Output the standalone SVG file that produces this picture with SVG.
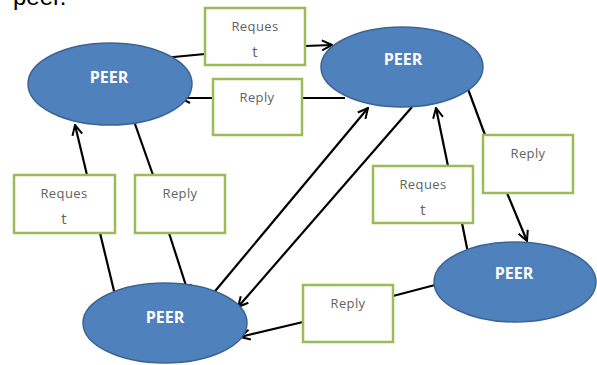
<svg xmlns="http://www.w3.org/2000/svg" width="597" height="365" viewBox="0 0 597 365">
  <style>
    .peer { fill: #4F81BD; stroke: #3B6495; stroke-width: 1.5; }
    .peer-label { font-family: "Open Sans", "Liberation Sans", sans-serif; font-weight: bold; font-size: 16px; fill: #FFFFFF; text-anchor: middle; }
    .msg { fill: #FFFFFF; stroke: #9BBB59; stroke-width: 2.5; }
    .msg-label { font-family: "Open Sans", "Liberation Sans", sans-serif; font-size: 13px; letter-spacing: 0.4px; fill: #626262; text-anchor: middle; }
    .msg-tail { font-size: 15px; }
    .link { fill: none; stroke: #000000; stroke-width: 2.2; }
    .caption { font-family: "Liberation Sans", Arial, sans-serif; font-size: 24px; fill: #000000; }
  </style>
  <defs>
    <marker id="arrow" viewBox="0 0 12 12" refX="11" refY="6" markerWidth="12" markerHeight="12" markerUnits="userSpaceOnUse" orient="auto">
      <polyline points="1,1 11,6 1,11" fill="none" stroke="#000000" stroke-width="2"/>
    </marker>
  </defs>

  <rect width="597" height="365" fill="#FFFFFF"/>
  <text class="caption" x="13" y="5">peer.</text>

  <g id="connectors">
    <!-- top-left peer -> request -> top-middle peer -->
    <line class="link" x1="163" y1="58" x2="205" y2="54"/>
    <line class="link" x1="305" y1="46" x2="332" y2="45" marker-end="url(#arrow)"/>
    <!-- top-middle peer -> reply -> top-left peer -->
    <line class="link" x1="345" y1="98" x2="302" y2="98"/>
    <line class="link" x1="213" y1="98" x2="180" y2="98" marker-end="url(#arrow)"/>
    <!-- bottom-left peer -> request -> top-left peer -->
    <line class="link" x1="115" y1="295" x2="100" y2="233"/>
    <line class="link" x1="87" y1="175" x2="75" y2="125" marker-end="url(#arrow)"/>
    <!-- top-left peer -> reply -> bottom-left peer -->
    <line class="link" x1="135" y1="124" x2="153" y2="175"/>
    <line class="link" x1="169" y1="233" x2="189" y2="295" marker-end="url(#arrow)"/>
    <!-- diagonals between bottom-left and top-middle peers -->
    <line class="link" x1="211" y1="296" x2="368" y2="108" marker-end="url(#arrow)"/>
    <line class="link" x1="412" y1="107" x2="238" y2="307" marker-end="url(#arrow)"/>
    <!-- bottom-right peer -> request -> top-middle peer -->
    <line class="link" x1="468" y1="253" x2="462" y2="223"/>
    <line class="link" x1="448" y1="166" x2="436" y2="108" marker-end="url(#arrow)"/>
    <!-- top-middle peer -> reply -> bottom-right peer -->
    <line class="link" x1="468" y1="89" x2="485" y2="135"/>
    <line class="link" x1="507" y1="193" x2="527" y2="241" marker-end="url(#arrow)"/>
    <!-- bottom-right peer -> reply -> bottom-left peer -->
    <line class="link" x1="435" y1="285" x2="393" y2="296"/>
    <line class="link" x1="303" y1="322" x2="240" y2="337" marker-end="url(#arrow)"/>
  </g>

  <g id="peer-top-left">
    <ellipse class="peer" cx="110" cy="84" rx="82" ry="41"/>
    <text class="peer-label" x="109" y="83">PEER</text>
  </g>
  <g id="peer-top-middle">
    <ellipse class="peer" cx="402" cy="67" rx="81" ry="40"/>
    <text class="peer-label" x="403" y="65">PEER</text>
  </g>
  <g id="peer-bottom-left">
    <ellipse class="peer" cx="165" cy="323" rx="82" ry="40"/>
    <text class="peer-label" x="165" y="323">PEER</text>
  </g>
  <g id="peer-bottom-right">
    <ellipse class="peer" cx="515" cy="282" rx="81" ry="40"/>
    <text class="peer-label" x="514" y="279">PEER</text>
  </g>

  <g id="msg-request-top">
    <rect class="msg" x="205" y="8" width="100" height="57"/>
    <text class="msg-label" x="255" y="31">Reques</text>
    <text class="msg-label msg-tail" x="255" y="57">t</text>
  </g>
  <g id="msg-reply-top">
    <rect class="msg" x="213" y="79" width="89" height="56"/>
    <text class="msg-label" x="257" y="102">Reply</text>
  </g>
  <g id="msg-request-left">
    <rect class="msg" x="14" y="175" width="101" height="58"/>
    <text class="msg-label" x="64" y="198">Reques</text>
    <text class="msg-label msg-tail" x="64" y="224">t</text>
  </g>
  <g id="msg-reply-left">
    <rect class="msg" x="135" y="175" width="90" height="58"/>
    <text class="msg-label" x="180" y="198">Reply</text>
  </g>
  <g id="msg-request-middle">
    <rect class="msg" x="373" y="166" width="100" height="57"/>
    <text class="msg-label" x="423" y="189">Reques</text>
    <text class="msg-label msg-tail" x="423" y="215">t</text>
  </g>
  <g id="msg-reply-right">
    <rect class="msg" x="483" y="135" width="90" height="58"/>
    <text class="msg-label" x="528" y="158">Reply</text>
  </g>
  <g id="msg-reply-bottom">
    <rect class="msg" x="303" y="285" width="90" height="57"/>
    <text class="msg-label" x="348" y="308">Reply</text>
  </g>
</svg>
